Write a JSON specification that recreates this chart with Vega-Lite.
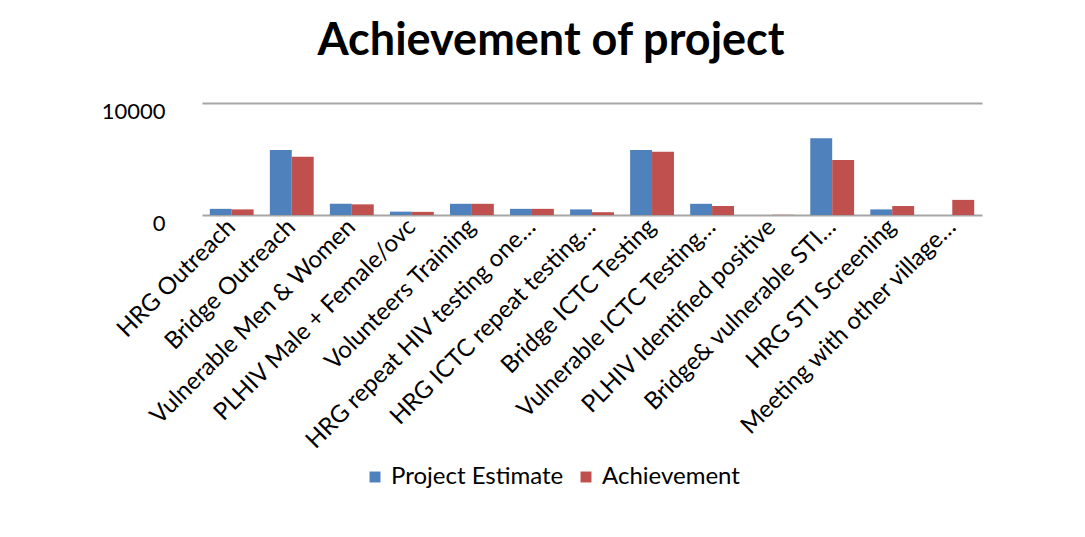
{
  "$schema": "https://vega.github.io/schema/vega-lite/v6.json",
  "autosize": "none",
  "width": 780,
  "height": 112,
  "padding": {"left": 202, "top": 103, "right": 103, "bottom": 322},
  "background": "white",
  "title": {
    "text": "Achievement of project",
    "font": "Lato",
    "fontSize": 45,
    "fontWeight": "bold",
    "color": "#000000",
    "anchor": "middle",
    "dx": -41,
    "offset": 36
  },
  "data": {
    "values": [
      {"activity": "HRG Outreach", "series": "Project Estimate", "value": 550},
      {"activity": "HRG Outreach", "series": "Achievement", "value": 500},
      {"activity": "Bridge Outreach", "series": "Project Estimate", "value": 5800},
      {"activity": "Bridge Outreach", "series": "Achievement", "value": 5200},
      {"activity": "Vulnerable Men & Women", "series": "Project Estimate", "value": 1000},
      {"activity": "Vulnerable Men & Women", "series": "Achievement", "value": 950},
      {"activity": "PLHIV Male + Female/ovc", "series": "Project Estimate", "value": 300},
      {"activity": "PLHIV Male + Female/ovc", "series": "Achievement", "value": 280},
      {"activity": "Volunteers Training", "series": "Project Estimate", "value": 1000},
      {"activity": "Volunteers Training", "series": "Achievement", "value": 1000},
      {"activity": "HRG repeat HIV testing one…", "series": "Project Estimate", "value": 550},
      {"activity": "HRG repeat HIV testing one…", "series": "Achievement", "value": 550},
      {"activity": "HRG ICTC repeat testing…", "series": "Project Estimate", "value": 500},
      {"activity": "HRG ICTC repeat testing…", "series": "Achievement", "value": 250},
      {"activity": "Bridge ICTC Testing", "series": "Project Estimate", "value": 5800},
      {"activity": "Bridge ICTC Testing", "series": "Achievement", "value": 5650},
      {"activity": "Vulnerable ICTC  Testing…", "series": "Project Estimate", "value": 1000},
      {"activity": "Vulnerable ICTC  Testing…", "series": "Achievement", "value": 800},
      {"activity": "PLHIV Identified positive", "series": "Project Estimate", "value": 0},
      {"activity": "PLHIV Identified positive", "series": "Achievement", "value": 20},
      {"activity": "Bridge& vulnerable  STI…", "series": "Project Estimate", "value": 6850},
      {"activity": "Bridge& vulnerable  STI…", "series": "Achievement", "value": 4900},
      {"activity": "HRG STI Screening", "series": "Project Estimate", "value": 500},
      {"activity": "HRG STI Screening", "series": "Achievement", "value": 800},
      {"activity": "Meeting with other village…", "series": "Project Estimate", "value": 0},
      {"activity": "Meeting with other village…", "series": "Achievement", "value": 1350}
    ]
  },
  "mark": {"type": "bar", "stroke": null},
  "encoding": {
    "x": {
      "field": "activity",
      "type": "nominal",
      "sort": null,
      "scale": {"paddingInner": 0.27, "paddingOuter": 0.13},
      "axis": {
        "title": null,
        "labelAngle": -45,
        "labelAlign": "right",
        "labelBaseline": "middle",
        "labelFont": "Lato",
        "labelFontSize": 24,
        "labelColor": "#000000",
        "labelPadding": 8,
        "labelLimit": 400,
        "ticks": false,
        "domain": false
      }
    },
    "xOffset": {
      "field": "series",
      "type": "nominal",
      "sort": ["Project Estimate", "Achievement"],
      "scale": {"paddingInner": 0}
    },
    "y": {
      "field": "value",
      "type": "quantitative",
      "scale": {"domain": [0, 10000], "nice": false},
      "axis": {
        "title": null,
        "values": [0, 10000],
        "format": "d",
        "labelFont": "Lato",
        "labelFontSize": 22,
        "labelColor": "#000000",
        "labelPadding": 37,
        "labelOffset": 8,
        "ticks": false,
        "domain": false,
        "grid": true,
        "gridColor": "#a6a6a6",
        "gridWidth": 2
      }
    },
    "color": {
      "field": "series",
      "type": "nominal",
      "sort": ["Project Estimate", "Achievement"],
      "scale": {"domain": ["Project Estimate", "Achievement"], "range": ["#4f81bd", "#c0504d"]},
      "legend": {
        "title": null,
        "orient": "none",
        "direction": "horizontal",
        "legendX": 161,
        "legendY": 362,
        "symbolType": "square",
        "symbolSize": 120,
        "labelFont": "Lato",
        "labelFontSize": 24,
        "labelColor": "#000000",
        "labelLimit": 400,
        "columnPadding": 10
      }
    }
  },
  "config": {"view": {"stroke": null}}
}
